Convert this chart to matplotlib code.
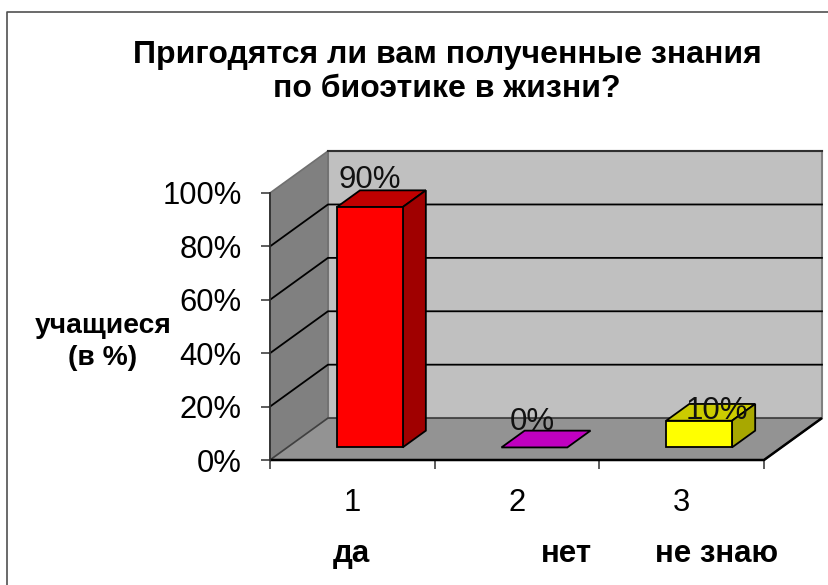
import matplotlib
matplotlib.use("Agg")
import matplotlib.pyplot as plt
from matplotlib.lines import Line2D
from matplotlib.patches import Polygon

plt.rcParams['font.family'] = ['Liberation Sans', 'DejaVu Sans']

# data
categories = ['1', '2', '3']
answers = ['да', 'нет', 'не знаю']
values = [90, 0, 10]
value_labels = ['90%', '0%', '10%']
y_ticks = [0, 20, 40, 60, 80, 100]
front_colors = ['#ff0000', '#cc00cc', '#ffff00']
top_colors = ['#c00000', '#c000c0', '#cccc00']
side_colors = ['#a00000', '#a000a0', '#a8a800']

# fake 3d, depth of the box in data units
depth_x = 0.352
depth_y = 15.7
bar_width = 0.40
bar_shift = 0.30
bar_depth = 0.40

# where the value labels sit relative to the bar
label_dx = [0.0, -0.01, 0.107]
label_dy = [14.9, 14.3, 8.4]

fig = plt.figure(figsize=(8.29, 5.85), dpi=100)
fig.patch.set_facecolor('white')
ax = fig.add_axes([270 / 829, 1 - 460 / 585, 494 / 829, 267 / 585])
ax.set_xlim(0, len(categories))
ax.set_ylim(0, 100)
ax.patch.set_visible(False)
for s in ax.spines.values():
    s.set_visible(False)


def poly(pts, color, edge='black', lw=1.3, z=1):
    ax.add_patch(Polygon(pts, closed=True, facecolor=color, edgecolor=edge,
                         linewidth=lw, clip_on=False, zorder=z, joinstyle='miter'))


# walls and floor
n = len(categories)
poly([(depth_x, depth_y), (n + depth_x, depth_y), (n + depth_x, 100 + depth_y), (depth_x, 100 + depth_y)],
     '#c0c0c0', edge='#808080', lw=1.5)
poly([(0, 0), (depth_x, depth_y), (depth_x, 100 + depth_y), (0, 100)], '#808080', edge='#707070', lw=1.2)
poly([(0, 0), (n, 0), (n + depth_x, depth_y), (depth_x, depth_y)], '#939393', edge='#404040', lw=1.2)

# gridlines run along left wall and back wall
for t in y_ticks[1:-1]:
    ax.plot([0, depth_x, n + depth_x], [t, t + depth_y, t + depth_y], color='black', lw=1.3,
            clip_on=False, zorder=2)
ax.plot([depth_x, n + depth_x], [100 + depth_y, 100 + depth_y], color='#303030', lw=1.5, clip_on=False, zorder=2)
ax.plot([0, n, n + depth_x], [0, 0, depth_y], color='black', lw=1.8, clip_on=False, zorder=2,
        solid_capstyle='butt')
ax.plot([0, 0], [0, 100], color='#303030', lw=1.3, clip_on=False, zorder=2)

# bars
for i, v in enumerate(values):
    x0 = i + 0.5 - bar_width / 2 + depth_x * bar_shift
    x1 = x0 + bar_width
    y0 = depth_y * bar_shift
    y1 = y0 + v
    dx = depth_x * bar_depth
    dy = depth_y * bar_depth
    poly([(x0, y1), (x1, y1), (x1 + dx, y1 + dy), (x0 + dx, y1 + dy)], top_colors[i], z=3)
    if v > 0:
        poly([(x1, y0), (x1 + dx, y0 + dy), (x1 + dx, y1 + dy), (x1, y1)], side_colors[i], z=3)
        poly([(x0, y0), (x1, y0), (x1, y1), (x0, y1)], front_colors[i], z=3)

# value labels, drawn over the bars
for i, v in enumerate(values):
    ax.text(i + 0.5 + depth_x * bar_shift + label_dx[i], v + label_dy[i], value_labels[i],
            ha='center', va='center', fontsize=22.5, color='#111111', zorder=5)

# axis ticks and labels
ax.set_yticks(y_ticks)
ax.set_yticklabels([str(t) + '%' for t in y_ticks], fontsize=22.3)
ax.tick_params(axis='y', length=6.5, width=1.1, pad=14, color='#303030')
ax.set_xticks(range(n + 1))
ax.set_xticklabels([])
ax.tick_params(axis='x', length=6.5, width=1.1, color='#303030')
ax.set_xticks([i + 0.5 for i in range(n)], minor=True)
ax.set_xticklabels(categories, minor=True, fontsize=22.3)
ax.tick_params(axis='x', which='minor', length=0, pad=20)

# texts outside the plot
fig.text(447 / 829, 1 - 72 / 585, 'Пригодятся ли вам полученные знания\nпо биоэтике в жизни?',
         ha='center', va='center', fontsize=23, fontweight='bold', linespacing=1.2)
fig.text(103 / 829, 1 - 342 / 585, 'учащиеся\n(в %)', ha='center', va='center', fontsize=20.3,
         fontweight='bold', linespacing=1.26)
answer_x = [351, 566, 717]
for a, px in zip(answers, answer_x):
    fig.text(px / 829, 1 - 554 / 585, a, ha='center', va='center', fontsize=22.5, fontweight='bold')

# chart frame, only top and left are inside the crop
fig.add_artist(Line2D([7 / 829, 7 / 829, 1], [0, 1 - 12 / 585, 1 - 12 / 585], color='#505050', lw=1.2))

fig.savefig('out.png', dpi=100)
